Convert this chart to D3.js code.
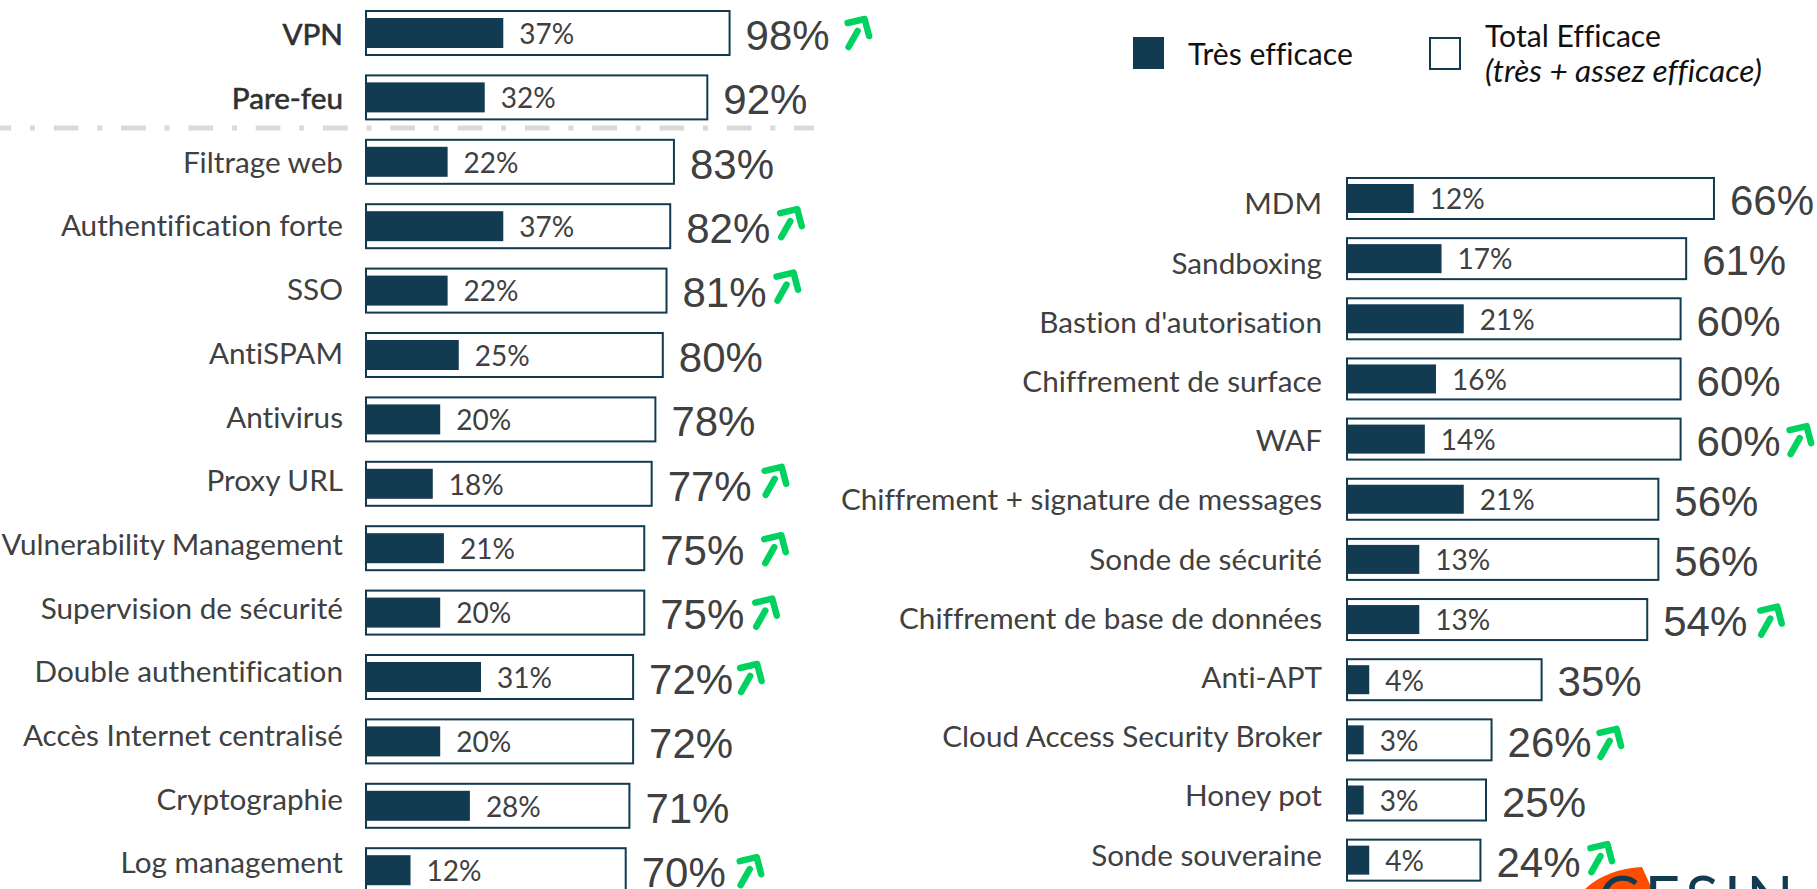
<!DOCTYPE html>
<html><head><meta charset="utf-8">
<style>html,body{margin:0;padding:0;background:#fff;overflow:hidden}svg{display:block}text{font-variant-ligatures:none}</style>
<script src="https://cdn.jsdelivr.net/npm/d3@7"></script></head><body>
<script>
const leftCategories=["VPN","Pare-feu","Filtrage web","Authentification forte","SSO","AntiSPAM","Antivirus","Proxy URL","Vulnerability Management","Supervision de sécurité","Double authentification","Accès Internet centralisé","Cryptographie","Log management"];
const leftTotal=[98,92,83,82,81,80,78,77,75,75,72,72,71,70];
const leftTres=[37,32,22,37,22,25,20,18,21,20,31,20,28,12];
const rightCategories=["MDM","Sandboxing","Bastion d'autorisation","Chiffrement de surface","WAF","Chiffrement + signature de messages","Sonde de sécurité","Chiffrement de base de données","Anti-APT","Cloud Access Security Broker","Honey pot","Sonde souveraine"];
const rightTotal=[66,61,60,60,60,56,56,54,35,26,25,24];
const rightTres=[12,17,21,16,14,21,13,13,4,3,3,4];
const risingCategories=["VPN","Authentification forte","SSO","Proxy URL","Vulnerability Management","Supervision de sécurité","Double authentification","Log management","WAF","Chiffrement de base de données","Cloud Access Security Broker","Sonde souveraine"];
const boldCategories=["VPN","Pare-feu"];
const legendLabels=["Très efficace","Total Efficace","(très + assez efficace)"];

const W=1817,H=889,navy="#123a50",ink="#404040",green="#00d25f";
const arrowNudge={"VPN":[128,-1],"Authentification forte":[120,-4],"SSO":[120,-5],"Proxy URL":[123,-4],"Vulnerability Management":[130,0],"Supervision de sécurité":[121,-1],"Double authentification":[117,0],"Log management":[124,0],"WAF":[119,0],"Chiffrement de base de données":[123,0],"Cloud Access Security Broker":[118,2],"Sonde souveraine":[120,-3]};
const svg=d3.select("body").append("svg").attr("width",W).attr("height",H).attr("viewBox",`0 0 ${W} ${H}`);

function panel(cats,total,tres,o){
  const n=cats.length;
  const x=d3.scaleLinear().domain([0,100]).range([o.x0,o.x0+o.pxPerPct*100]);
  const y=d3.scaleBand().domain(cats).range([o.top,o.top+o.pitch*(n-1)+o.h]).paddingInner(1-o.h/o.pitch).paddingOuter(0);
  const ly=d3.scalePoint().domain(cats).range([o.labelTop,o.labelTop+o.labelPitch*(n-1)]);
  const rows=cats.map((c,i)=>({c,t:total[i],v:tres[i]}));
  const g=svg.append("g").selectAll("g").data(rows).join("g");
  g.append("rect").attr("x",x(0)).attr("y",d=>y(d.c)).attr("width",d=>x(d.t)-x(0)).attr("height",y.bandwidth())
    .attr("fill","#fff").attr("stroke",navy).attr("stroke-width",2);
  g.append("rect").attr("x",x(0)).attr("y",d=>y(d.c)+(y.bandwidth()-o.inner)/2).attr("width",d=>x(d.v)-x(0)).attr("height",o.inner).attr("fill",navy);
  g.append("text").attr("x",d=>x(d.v)+16).attr("y",d=>y(d.c)+y.bandwidth()/2+1).attr("dy","0.35em")
    .attr("font-family","Lato").attr("font-size",28).attr("fill",ink).text(d=>d.v+"%");
  g.append("text").attr("x",o.labelX).attr("y",d=>ly(d.c)).attr("dy","0.35em").attr("text-anchor","end")
    .attr("font-family","Lato").attr("font-size",29.7).attr("fill",d=>boldCategories.includes(d.c)?"#303030":ink)
    .attr("stroke",d=>boldCategories.includes(d.c)?"#303030":"none").attr("stroke-width",0.6).text(d=>d.c);
  g.append("text").attr("x",d=>x(d.t)+16).attr("y",d=>y(d.c)+y.bandwidth()/2+2).attr("dy","0.35em")
    .attr("font-family","'Liberation Sans'").attr("font-size",42).attr("fill",ink).text(d=>d.t+"%");
  const a=g.filter(d=>risingCategories.includes(d.c)).append("g")
    .attr("transform",d=>{const m=arrowNudge[d.c];return `translate(${x(d.t)+m[0]},${y(d.c)+y.bandwidth()/2+m[1]})`})
    .attr("fill","none").attr("stroke",green).attr("stroke-width",6.5).attr("stroke-linecap","round").attr("stroke-linejoin","round");
  a.append("path").attr("d",d3.line()([[-10,-9],[7,-13],[11.5,4]]));
  a.append("path").attr("d",d3.line()([[0,-1],[-9,15]]));
}
panel(leftCategories,leftTotal,leftTres,{x0:366,pxPerPct:3.71,top:11,pitch:64.4,h:44,inner:30,labelX:343,labelTop:35,labelPitch:63.7});
panel(rightCategories,rightTotal,rightTres,{x0:1347,pxPerPct:5.56,top:178,pitch:60.15,h:41,inner:29,labelX:1322,labelTop:204,labelPitch:59.2});

svg.append("line").attr("x1",-13.5).attr("x2",814).attr("y1",128).attr("y2",128).attr("stroke","#d9d9d9").attr("stroke-width",5).attr("stroke-dasharray","24.7 18.8 5 18.8");

const lg=svg.append("g").attr("font-family","Lato").attr("font-size",30.1).attr("fill","#111");
lg.append("rect").attr("x",1133).attr("y",37).attr("width",31).attr("height",32).attr("fill",navy);
lg.append("rect").attr("x",1430).attr("y",38).attr("width",30).attr("height",31).attr("fill","#fff").attr("stroke",navy).attr("stroke-width",2);
lg.append("text").attr("x",1188).attr("y",54).attr("dy","0.35em").text(legendLabels[0]);
lg.append("text").attr("x",1485).attr("y",36).attr("dy","0.35em").text(legendLabels[1]);
lg.append("text").attr("x",1485).attr("y",71).attr("dy","0.35em").attr("font-style","italic").attr("font-size",31.6).text(legendLabels[2]);

const logo=svg.append("g");
logo.append("path").attr("d","M1585,889C1600,875 1620,868 1642,867L1652,889Z").attr("fill","#ff4d00");
logo.append("text").attr("x",1598).attr("y",921).attr("font-family","Lato").attr("font-size",62).attr("letter-spacing",5).attr("fill",navy).text("CESIN");
</script></body></html>
